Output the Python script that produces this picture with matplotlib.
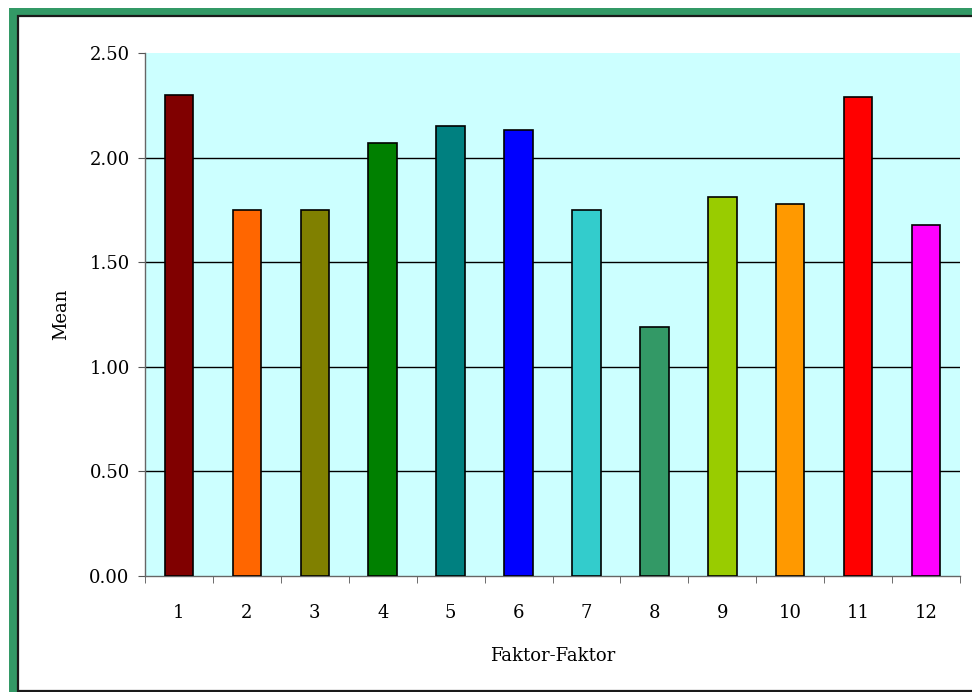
import matplotlib
matplotlib.use("Agg")
import matplotlib.pyplot as plt
from matplotlib.patches import Rectangle
import numpy as np

categories = ["1", "2", "3", "4", "5", "6", "7", "8", "9", "10", "11", "12"]
means = [2.30, 1.75, 1.75, 2.07, 2.15, 2.13, 1.75, 1.19, 1.81, 1.78, 2.29, 1.68]
colors = ["#800000", "#FF6600", "#808000", "#008000", "#008080", "#0000FF",
          "#33CCCC", "#339966", "#99CC00", "#FF9900", "#FF0000", "#FF00FF"]
yticks = [0.0, 0.5, 1.0, 1.5, 2.0, 2.5]
ytick_labels = ["0.00", "0.50", "1.00", "1.50", "2.00", "2.50"]

W, H = 972, 692
fig = plt.figure(figsize=(W / 100, H / 100), dpi=100)
fig.patch.set_facecolor("white")

# frame
fig.patches.append(Rectangle((9 / W, -0.1), 1.2, 1 - 8 / H + 0.1,
                             transform=fig.transFigure, facecolor="#339966",
                             edgecolor="none", zorder=-10))
fig.patches.append(Rectangle((17.5 / W, 1 - 690.5 / H), 1.2, (690.5 - 15.5) / H,
                             transform=fig.transFigure, facecolor="white",
                             edgecolor="#1a1a1a", linewidth=1.6, zorder=-9))

ax = fig.add_axes([145 / W, 1 - 576 / H, 815 / W, 523 / H])
ax.set_facecolor("#CCFFFF")
x = np.arange(len(categories))
ax.bar(x, means, width=0.42, color=colors, edgecolor="black", linewidth=1.2, zorder=3)

ax.set_xlim(-0.5, len(categories) - 0.5)
ax.set_ylim(0, 2.5)
ax.set_yticks(yticks)
ax.set_yticklabels(ytick_labels)
ax.set_xticks(x)
ax.set_xticklabels(categories)
ax.set_xticks(np.arange(-0.5, len(categories), 1.0), minor=True)
ax.tick_params(axis="x", which="major", length=0, pad=20)
ax.tick_params(axis="x", which="minor", length=5, direction="out", color="#555555")
ax.tick_params(axis="y", length=5, direction="out", color="#555555", pad=6)

for yv in yticks[1:-1]:
    ax.axhline(yv, color="black", linewidth=1.0, zorder=1)

for s in ["top", "right"]:
    ax.spines[s].set_visible(False)
for s in ["left", "bottom"]:
    ax.spines[s].set_color("#666666")
    ax.spines[s].set_linewidth(1.0)

font = ["DejaVu Serif"]
for lab in ax.get_xticklabels() + ax.get_yticklabels():
    lab.set_fontfamily(font)
    lab.set_fontsize(13)
ax.set_xlabel("Faktor-Faktor", fontfamily=font, fontsize=13, labelpad=18)
ax.set_ylabel("Mean", fontfamily=font, fontsize=13, labelpad=14)

fig.savefig("out.png", dpi=100)
